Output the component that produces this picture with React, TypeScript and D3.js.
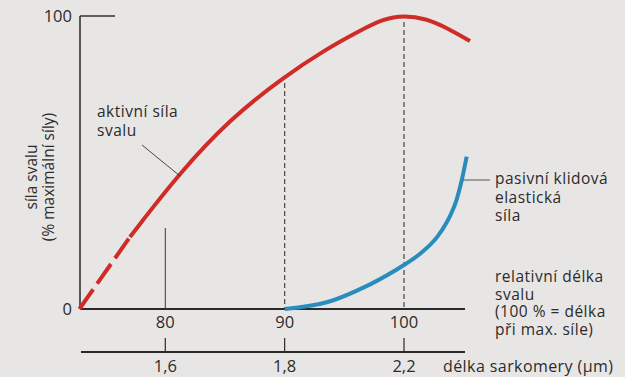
import React from "react";
import * as d3 from "d3";

// relative muscle length (%) vs force (% of max)
const activeDashX = [72.8, 77.04];
const activeDashY = [0, 24.6];
const activeX = [77.04, 81.23, 85.42, 89.86, 93.55, 96.31, 98.2, 100, 101.9, 103.27, 105.53];
const activeY = [24.6, 46.6, 64.8, 79.0, 88.9, 95.0, 98.9, 100.3, 99.0, 96.6, 91.5];

const passiveX = [90, 93.6, 97.2, 100, 101.4, 102.8, 104.2, 105.25];
const passiveY = [0, 2.4, 8.5, 15, 19, 24.7, 34.9, 52];

const lengthTicks = [80, 90, 100];
const sarcomereLabels = ["1,6", "1,8", "2,2"];
const yTicks = [0, 100];

const W = 625;
const H = 377;
const FONT = "'Open Sans', 'Noto Sans', sans-serif";
const TXT = "#2b2b2b";
const RED = "#cf2b27";
const BLUE = "#2a8bbd";

export default function App() {
  const x = d3.scaleLinear().domain([80, 100]).range([165.3, 404]);
  const y = d3.scaleLinear().domain([0, 100]).range([309, 16]);
  const xMin = x.invert(80);
  const xMax = x.invert(465);

  const redLine = d3
    .line<[number, number]>()
    .x((d) => x(d[0]))
    .y((d) => y(d[1]))
    .curve(d3.curveBasis);
  const line = d3
    .line<[number, number]>()
    .x((d) => x(d[0]))
    .y((d) => y(d[1]))
    .curve(d3.curveCatmullRom.alpha(0.5));

  const dashPts = activeDashX.map((v, i) => [v, activeDashY[i]] as [number, number]);
  const actPts = activeX.map((v, i) => [v, activeY[i]] as [number, number]);
  const pasPts = passiveX.map((v, i) => [v, passiveY[i]] as [number, number]);

  const axis2Y = 352;
  const ann = { fontSize: 15.5, letterSpacing: 0.5, fill: TXT } as const;

  return (
    <svg
      width={W}
      height={H}
      style={{ position: "absolute", left: 0, top: 0, background: "#e7e6e5" }}
      fontFamily={FONT}
    >
      <rect x={0} y={0} width={W} height={H} fill="#e7e6e5" />

      {/* y axis */}
      <line x1={x(xMin)} x2={x(xMin)} y1={y(100)} y2={y(0)} stroke="#333" strokeWidth={1.6} />
      <line x1={x(xMin)} x2={x(xMin) + 35} y1={y(100)} y2={y(100)} stroke="#333" strokeWidth={1.4} />
      {yTicks.map((t) => (
        <text key={t} x={72} y={y(t) + 6} textAnchor="end" fontSize={16.5} fill={TXT}>
          {t}
        </text>
      ))}
      <g transform={`translate(37, 177) rotate(-90)`}>
        <text textAnchor="middle" fontSize={15.5} fill={TXT}>síla svalu</text>
      </g>
      <g transform={`translate(54, 177) rotate(-90)`}>
        <text textAnchor="middle" fontSize={15.5} fill={TXT}>(% maximální síly)</text>
      </g>

      {/* guide lines */}
      <line x1={x(80)} x2={x(80)} y1={228} y2={y(0)} stroke="#3a3a3a" strokeWidth={1} />
      <line x1={x(90)} x2={x(90)} y1={83} y2={y(0)} stroke="#444" strokeWidth={1.2} strokeDasharray="5 3" />
      <line x1={x(100)} x2={x(100)} y1={22} y2={y(0)} stroke="#444" strokeWidth={1.2} strokeDasharray="5 3" />

      {/* muscle length axis */}
      <line x1={x(xMin)} x2={x(xMax)} y1={y(0)} y2={y(0)} stroke="#2a2a2a" strokeWidth={2} />
      {lengthTicks.map((t) => (
        <text key={t} x={x(t)} y={328} textAnchor="middle" fontSize={16.5} fill={TXT}>
          {t}
        </text>
      ))}

      {/* sarcomere axis */}
      <line x1={x(xMin) + 1} x2={x(xMax)} y1={axis2Y} y2={axis2Y} stroke="#2a2a2a" strokeWidth={2} />
      {lengthTicks.map((t, i) => (
        <g key={t}>
          <line x1={x(t)} x2={x(t)} y1={338} y2={axis2Y} stroke="#2a2a2a" strokeWidth={1.2} />
          <text x={x(t)} y={372} textAnchor="middle" fontSize={16.5} fill={TXT}>
            {sarcomereLabels[i]}
          </text>
        </g>
      ))}
      <text x={443} y={372} fontSize={16} textLength={170} lengthAdjust="spacing" fill={TXT}>
        délka sarkomery (μm)
      </text>

      {/* curves */}
      <path d={line(dashPts) || ""} fill="none" stroke={RED} strokeWidth={4} strokeDasharray="24 7" />
      <path d={redLine(actPts) || ""} fill="none" stroke={RED} strokeWidth={4} strokeLinecap="butt" />
      <path d={line(pasPts) || ""} fill="none" stroke={BLUE} strokeWidth={4} />

      {/* annotations */}
      <text x={97} y={117} {...ann}>aktivní síla</text>
      <text x={97} y={135.5} {...ann}>svalu</text>
      <line x1={142} y1={145} x2={180} y2={176} stroke="#333" strokeWidth={0.9} />

      <line x1={463} y1={180} x2={490} y2={180} stroke="#555" strokeWidth={1} />
      <text x={495} y={184} {...ann}>pasivní klidová</text>
      <text x={495} y={202.5} {...ann}>elastická</text>
      <text x={495} y={221} {...ann}>síla</text>

      <text x={495} y={282} {...ann}>relativní délka</text>
      <text x={495} y={299.5} {...ann}>svalu</text>
      <text x={495} y={317} {...ann}>(100 % = délka</text>
      <text x={495} y={334.5} {...ann}>při max. síle)</text>
    </svg>
  );
}
